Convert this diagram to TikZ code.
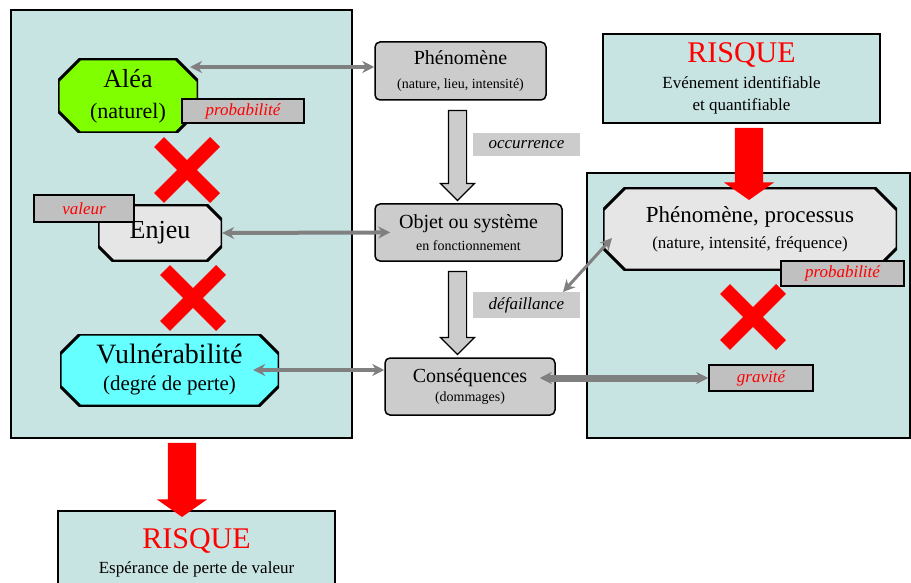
\documentclass[tikz,border=0pt]{standalone}
\usepackage{fontspec}
\setmainfont{Liberation Serif}
\usetikzlibrary{arrows.meta, positioning, shapes.misc, shapes.arrows}

\definecolor{fond}{RGB}{200,228,226}
\definecolor{grisetiquette}{RGB}{192,192,192}
\definecolor{grisboite}{RGB}{204,204,204}
\definecolor{grisclair}{RGB}{230,230,230}
\definecolor{grisfleche}{RGB}{128,128,128}
\definecolor{vertalea}{RGB}{128,255,0}
\definecolor{cyanvuln}{RGB}{102,255,255}

\tikzset{
	panneau/.style={shape=rectangle, draw, line width=1.5pt, fill=fond, align=center},
	boite/.style={shape=rectangle, draw, line width=1.5pt, fill=grisboite, rounded corners=5pt, align=center, inner sep=0pt},
	octo/.style 2 args={shape=rectangle, align=center, inner sep=0pt, path picture={
		\path[fill=#1, draw=black, line width=3pt]
			([xshift=#2]path picture bounding box.north west) -- ([xshift=-#2]path picture bounding box.north east)
			-- ([yshift=-#2]path picture bounding box.north east) -- ([yshift=#2]path picture bounding box.south east)
			-- ([xshift=-#2]path picture bounding box.south east) -- ([xshift=#2]path picture bounding box.south west)
			-- ([yshift=#2]path picture bounding box.south west) -- ([yshift=-#2]path picture bounding box.north west) -- cycle;}},
	etiquette/.style={shape=rectangle, draw, line width=1.5pt, fill=grisetiquette, text=red, font=\fontsize{17}{20}\selectfont\itshape, inner sep=0pt},
	etiquettegrise/.style={shape=rectangle, fill=grisboite, font=\fontsize{17}{20}\selectfont\itshape, inner sep=0pt},
	croix/.style={shape=cross out, draw=red, line width=14pt, minimum size=42pt, inner sep=0pt},
	liaison/.style={draw=grisfleche, line width=4pt, {Stealth[length=12pt,width=12pt]}-{Stealth[length=12pt,width=12pt]}},
	flechebloc/.style={shape=single arrow, shape border rotate=270, draw, line width=1.2pt, fill=grisboite, inner sep=8.5pt, single arrow head extend=8pt},
	flecherouge/.style={shape=single arrow, shape border rotate=270, fill=red, inner sep=14pt, single arrow head extend=11pt, single arrow tip angle=110},
}

\begin{document}
\begin{tikzpicture}[x=1pt, y=-1pt]
	\path[use as bounding box] (0,0) rectangle (911,583);
	\clip (0,0) rectangle (911,583);
	% Panneaux et risques:
	\node[panneau, minimum width=341pt, minimum height=428pt] (panelL) at (181.5, 224){};
	\node[panneau, minimum width=323pt, minimum height=265pt] (panelR) at (748.5, 305.5){};
	\node[panneau, minimum width=277pt, minimum height=89pt, font=\fontsize{17}{22}\selectfont] (risqueR) at (741.5, 78.5){{\fontsize{30}{26}\selectfont\color{red}RISQUE}\\[4pt]Evénement identifiable\\et quantifiable};
	\node[panneau, minimum width=277pt, minimum height=84pt, font=\fontsize{17}{25}\selectfont] (risqueB) at (196.5, 553){{\fontsize{30}{26}\selectfont\color{red}RISQUE}\\Espérance de perte de valeur};
	% Colonne de gauche:
	\node[octo={vertalea}{22pt}, minimum width=140pt, minimum height=74pt, font=\fontsize{22}{31}\selectfont] (alea) at (128, 96){{\fontsize{26}{31}\selectfont Aléa}\\(naturel)};
	\node[etiquette, minimum width=122pt, minimum height=24pt] (probaA) at (243, 111){probabilité};
	\node[croix] (croixA) at (187, 170){};
	\node[octo={grisclair}{15pt}, minimum width=124pt, minimum height=56pt, font=\fontsize{26}{28}\selectfont] (enjeu) at (160, 233){Enjeu};
	\node[etiquette, minimum width=100pt, minimum height=27pt] (valeur) at (84, 208.5){valeur};
	\node[croix] (croixB) at (193, 298){};
	\node[octo={cyanvuln}{20pt}, minimum width=219pt, minimum height=72pt, font=\fontsize{21}{27}\selectfont] (vuln) at (169.5, 370){{\fontsize{28}{27}\selectfont Vulnérabilité}\\(degré de perte)};
	\node[flecherouge, minimum height=74pt] (flecheB) at (182, 475){};
	% Colonne du milieu:
	\node[boite, minimum width=171pt, minimum height=58pt, font=\fontsize{14}{24}\selectfont] (phen) at (460.5, 71){{\fontsize{20}{24}\selectfont Phénomène}\\(nature, lieu, intensité)};
	\node[flechebloc, minimum height=90pt] (flecheA) at (457.5, 151){};
	\node[etiquettegrise, minimum width=107pt, minimum height=23pt] (occur) at (526.5, 144.5){occurrence};
	\node[boite, minimum width=187pt, minimum height=57pt, font=\fontsize{14}{22}\selectfont] (objet) at (468.5, 232.5){{\fontsize{20}{22}\selectfont Objet ou système}\\en fonctionnement};
	\node[flechebloc, minimum height=83pt] (flecheC) at (457.5, 308.5){};
	\node[etiquettegrise, minimum width=107pt, minimum height=26pt] (defail) at (526.5, 305){défaillance};
	\node[boite, minimum width=170pt, minimum height=57pt, font=\fontsize{14}{19}\selectfont] (conseq) at (470, 386.5){{\fontsize{20}{19}\selectfont Conséquences}\\(dommages)};
	% Colonne de droite:
	\node[octo={grisclair}{22pt}, minimum width=294pt, minimum height=82pt, font=\fontsize{17}{26}\selectfont] (proc) at (750, 229){{\fontsize{23}{26}\selectfont Phénomène, processus}\\(nature, intensité, fréquence)};
	\node[flecherouge, minimum height=72pt] (flecheR) at (749, 159){};
	\node[etiquette, minimum width=123pt, minimum height=25pt] (probaR) at (842.5, 273.5){probabilité};
	\node[croix] (croixC) at (753, 317){};
	\node[etiquette, minimum width=104pt, minimum height=26pt] (gravite) at (761, 378){gravité};
	% Liaisons:
	\coordinate (aleaR) at (190, 67);
	\coordinate (defailH) at (563, 292);
	\coordinate (procB) at (612, 238);
	\draw[liaison] (aleaR) -- (aleaR -| phen.west);
	\draw[liaison, shorten >=-16pt] (enjeu.east) -- (objet.west);
	\draw[liaison, shorten <=-26pt] (vuln.east) -- (vuln.east -| conseq.west);
	\draw[liaison, line width=7pt, shorten <=-16pt] (gravite.west -| conseq.east) -- (gravite.west);
	\draw[liaison, line width=3pt] (defailH) -- (procB);
\end{tikzpicture}
\end{document}
